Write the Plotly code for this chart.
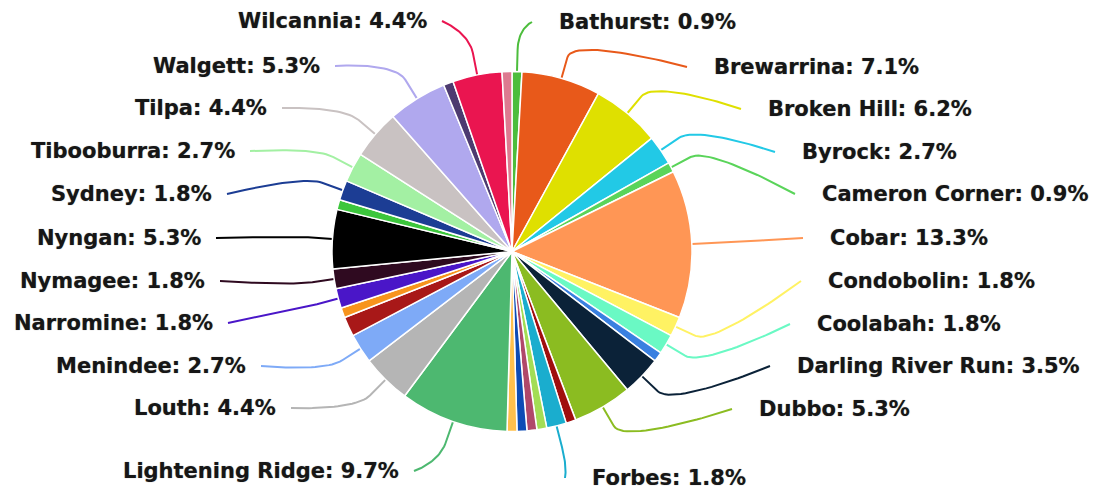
import numpy as np
import plotly.graph_objects as go

# Visits per town (clockwise from 12 o'clock, alphabetical)
towns = [
    "Bathurst", "Brewarrina", "Broken Hill", "Byrock", "Cameron Corner",
    "Cobar", "Condobolin", "Coolabah", "Coonamble", "Darling River Run",
    "Dubbo", "Enngonia", "Forbes", "Gilgandra", "Goodooga", "Hermidale",
    "Ivanhoe", "Lightening Ridge", "Louth", "Menindee", "Mildura",
    "Mount Hope", "Narromine", "Nymagee", "Nyngan", "Orange", "Sydney",
    "Tibooburra", "Tilpa", "Walgett", "White Cliffs", "Wilcannia", "Yantabulla",
]
visits = [
    1, 8, 7, 3, 1,
    15, 2, 2, 1, 4,
    6, 1, 2, 1, 1, 1,
    1, 11, 5, 3, 2,
    1, 2, 2, 6, 1, 2,
    3, 5, 6, 1, 5, 1,
]
slice_colors = [
    "#4cbd3c", "#e8591a", "#dfe000", "#22c9e6", "#5ad45a",
    "#ff9655", "#fff263", "#6af9c4", "#3a80e0", "#0b2238",
    "#8bbc21", "#a00e0e", "#1aadce", "#a3dd55", "#b0486a", "#0d4bb5",
    "#ffc04d", "#4db870", "#b5b5b5", "#7eaaf7", "#a81818",
    "#f7941d", "#4a16c8", "#2f0a20", "#000000", "#3cc63c", "#1c3d94",
    "#a3f0a3", "#c9c2c2", "#b0a8ee", "#4d3b70", "#ea1550", "#dd7a90",
]

# Callout end points (pixels) for the labelled slices; side tells text alignment
callouts = {
    "Bathurst": (532, 22, "right"),
    "Brewarrina": (687, 67, "right"),
    "Broken Hill": (741, 109, "right"),
    "Byrock": (775, 152, "right"),
    "Cameron Corner": (795, 194, "right"),
    "Cobar": (803, 238, "right"),
    "Condobolin": (801, 281, "right"),
    "Coolabah": (790, 324, "right"),
    "Darling River Run": (770, 366, "right"),
    "Dubbo": (732, 409, "right"),
    "Forbes": (565, 478, "right"),
    "Wilcannia": (442, 21, "left"),
    "Walgett": (335, 66, "left"),
    "Tilpa": (282, 108, "left"),
    "Tibooburra": (250, 151, "left"),
    "Sydney": (227, 194, "left"),
    "Nyngan": (216, 238, "left"),
    "Nymagee": (220, 281, "left"),
    "Narromine": (228, 323, "left"),
    "Menindee": (261, 366, "left"),
    "Louth": (291, 408, "left"),
    "Lightening Ridge": (414, 471, "left"),
}

W, H = 1107, 491
CX, CY, R = 512, 251.5, 180
BREAK = 22

fig = go.Figure()

fig.add_trace(go.Pie(
    labels=towns,
    values=visits,
    sort=False,
    direction="clockwise",
    rotation=0,
    textinfo="none",
    hoverinfo="skip",
    marker=dict(colors=slice_colors, line=dict(color="white", width=1.5)),
    domain=dict(
        x=[(CX - R) / W, (CX + R) / W],
        y=[(H - CY - R) / H, (H - CY + R) / H],
    ),
    showlegend=False,
))

vals = np.array(visits, dtype=float)
total = vals.sum()
ends = np.cumsum(vals) / total * 2 * np.pi
starts = ends - vals / total * 2 * np.pi
mids = (starts + ends) / 2

annotations = []
for i, town in enumerate(towns):
    if town not in callouts:
        continue
    lx, ly, side = callouts[town]
    a = mids[i]
    d = np.array([np.sin(a), -np.cos(a)])
    E = np.array([CX, CY]) + R * d
    B = np.array([CX, CY]) + (R + BREAK) * d
    L = np.array([lx, ly], dtype=float)
    C2 = 2 * B - E
    t = np.linspace(0, 1, 30)[:, None]
    curve = ((1 - t) ** 3) * L + 3 * ((1 - t) ** 2) * t * L + 3 * (1 - t) * t ** 2 * C2 + t ** 3 * B
    pts = np.vstack([curve, E])
    fig.add_trace(go.Scatter(
        x=pts[:, 0], y=pts[:, 1], mode="lines",
        line=dict(color=slice_colors[i], width=2),
        hoverinfo="skip", showlegend=False,
        xaxis="x", yaxis="y",
    ))
    pct = vals[i] / total * 100
    if side == "right":
        tx, anchor = lx + 25, "left"
    else:
        tx, anchor = lx - 13, "right"
    annotations.append(dict(
        x=tx, y=ly, xref="x", yref="y",
        text=f"{town}: {pct:.1f}%",
        showarrow=False, xanchor=anchor, yanchor="middle",
        font=dict(family="DejaVu Sans", size=21, color="#161616", weight="bold",
                  shadow="0px 0px 1px #888888"),
    ))

fig.update_layout(
    width=W, height=H,
    margin=dict(l=0, r=0, t=0, b=0),
    paper_bgcolor="white", plot_bgcolor="rgba(0,0,0,0)",
    xaxis=dict(range=[0, W], visible=False, fixedrange=True),
    yaxis=dict(range=[H, 0], visible=False, fixedrange=True),
    annotations=annotations,
    showlegend=False,
)

fig.write_html("out.html")
